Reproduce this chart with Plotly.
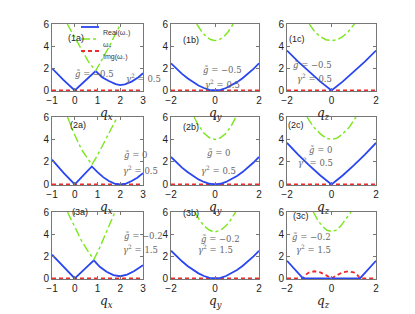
import plotly.graph_objects as go

# ---------------- data ----------------
# column a: q_x in [-1, 3]; columns b, c: q_y, q_z in [-2, 2]
q_blue_1a = [-1, -0.5, 0, 0.45, 0.92, 1.2, 1.5, 1.8, 2.0, 2.2, 2.5, 2.8, 3.0]
re_1a = [2.0, 0.95, 0.0, 0.85, 1.75, 1.2, 0.85, 0.58, 0.48, 0.55, 0.8, 1.2, 1.55]
q_green_1a = [-0.33, 0.0, 0.3, 0.6, 0.92, 1.2, 1.5, 1.75, 2.02]
wp_1a = [6.0, 4.75, 3.6, 2.6, 1.77, 2.75, 3.9, 4.95, 6.0]

q_blue_2a = [-1, -0.5, 0, 0.375, 0.75, 1.0, 1.25, 1.5, 1.75, 2.0, 2.25, 2.5, 2.75, 3.0]
re_2a = [2.2, 1.05, 0.0, 0.8, 1.6, 1.1, 0.65, 0.3, 0.08, 0.0, 0.08, 0.3, 0.6, 1.0]
q_green_2a = [-0.32, 0.0, 0.3, 0.55, 0.75, 1.0, 1.25, 1.5, 1.87]
wp_2a = [6.0, 4.4, 3.1, 2.3, 1.75, 2.6, 3.6, 4.6, 6.0]

q_blue_3a = [-1, -0.5, 0, 0.42, 0.84, 1.1, 1.4, 1.7, 2.0, 2.3, 2.6, 3.0]
re_3a = [2.15, 1.05, 0.0, 0.82, 1.63, 1.05, 0.6, 0.3, 0.2, 0.35, 0.65, 1.2]
q_green_3a = [-0.32, 0.0, 0.3, 0.6, 0.84, 1.1, 1.4, 1.77]
wp_3a = [6.0, 4.6, 3.4, 2.4, 1.7, 2.8, 4.2, 6.0]

q_sym = [-2, -1.75, -1.5, -1.25, -1, -0.75, -0.5, -0.25, 0, 0.25, 0.5, 0.75, 1, 1.25, 1.5, 1.75, 2]
re_1b = [2.45, 1.95, 1.5, 1.1, 0.75, 0.45, 0.22, 0.06, 0.0, 0.06, 0.22, 0.45, 0.75, 1.1, 1.5, 1.95, 2.45]
re_2b = [2.45, 1.95, 1.5, 1.1, 0.75, 0.45, 0.22, 0.06, 0.0, 0.06, 0.22, 0.45, 0.75, 1.1, 1.5, 1.95, 2.45]
re_3b = [2.5, 2.0, 1.55, 1.12, 0.76, 0.46, 0.22, 0.06, 0.0, 0.06, 0.22, 0.46, 0.76, 1.12, 1.55, 2.0, 2.5]

q_v = [-2, -1.5, -1, -0.5, 0, 0.5, 1, 1.5, 2]
re_1c = [3.6, 2.6, 1.7, 0.8, 0.0, 0.8, 1.7, 2.6, 3.6]
re_2c = [3.7, 2.65, 1.7, 0.8, 0.0, 0.8, 1.7, 2.65, 3.7]
q_blue_3c = [-2, -1.28, 0, 1.28, 2]
re_3c = [1.6, 0.0, 0.0, 0.0, 1.6]

q_green_1b = [-0.83, -0.6, -0.4, -0.2, 0, 0.2, 0.4, 0.6, 0.83]
wp_1b = [6.0, 5.3, 4.85, 4.6, 4.5, 4.6, 4.85, 5.3, 6.0]
q_green_2b = [-0.95, -0.75, -0.5, -0.25, 0, 0.25, 0.5, 0.75, 0.95]
wp_2b = [6.0, 5.25, 4.55, 4.15, 4.0, 4.15, 4.55, 5.25, 6.0]
q_green_3b = [-0.92, -0.7, -0.5, -0.25, 0, 0.25, 0.5, 0.7, 0.94]
wp_3b = [6.0, 5.25, 4.75, 4.35, 4.2, 4.35, 4.75, 5.25, 6.0]

q_green_1c = [-1.0, -0.75, -0.5, -0.25, 0, 0.25, 0.5, 0.75, 1.03]
wp_1c = [6.0, 5.3, 4.85, 4.58, 4.5, 4.58, 4.85, 5.3, 6.0]
q_green_2c = [-1.1, -0.8, -0.5, -0.25, 0, 0.25, 0.5, 0.8, 1.1]
wp_2c = [6.0, 5.1, 4.5, 4.12, 4.0, 4.12, 4.5, 5.1, 6.0]
q_green_3c = [-0.82, -0.6, -0.4, -0.2, 0, 0.2, 0.4, 0.6, 0.88]
wp_3c = [6.0, 5.2, 4.7, 4.35, 4.25, 4.35, 4.7, 5.2, 6.0]

q_img_a = [-1, 3]
im_a = [0, 0]
q_img_bc = [-2, 2]
im_bc = [0, 0]
q_img_3c = [-2, -1.28, -1.15, -1.0, -0.75, -0.5, -0.25, 0, 0.25, 0.5, 0.75, 1.0, 1.15, 1.28, 2]
im_3c = [0, 0, 0.35, 0.55, 0.65, 0.55, 0.3, 0, 0.3, 0.55, 0.65, 0.55, 0.35, 0, 0]

panel_labels = ["(1a)", "(1b)", "(1c)", "(2a)", "(2b)", "(2c)", "(3a)", "(3b)", "(3c)"]
g_texts = ["−0.5", "−0.5", "−0.5", "0", "0", "0", "−0.2", "−0.2", "−0.2"]
gamma_texts = ["0.5", "0.5", "0.5", "0.5", "0.5", "0.5", "1.5", "1.5", "1.5"]
axis_names = ["x", "y", "z"]
legend_names = ["Real(ω<sub>−</sub>)", "ω<sub>+</sub>", "Img(ω<sub>−</sub>)"]

# ---------------- layout helpers ----------------
W, H = 415, 314
BLUE, GREEN, RED = "#2a46f0", "#7ae81a", "#ee2a2a"
RED_DASH = "4px,3px"
col_px = [(52, 143), (171, 259), (287, 376)]
row_px = [(24, 91), (117, 185), (212, 279)]


def px(x):
    return x / W


def py(y):
    return 1 - y / H


panels = [
    (q_blue_1a, re_1a, q_green_1a, wp_1a, q_img_a, im_a),
    (q_sym, re_1b, q_green_1b, wp_1b, q_img_bc, im_bc),
    (q_v, re_1c, q_green_1c, wp_1c, q_img_bc, im_bc),
    (q_blue_2a, re_2a, q_green_2a, wp_2a, q_img_a, im_a),
    (q_sym, re_2b, q_green_2b, wp_2b, q_img_bc, im_bc),
    (q_v, re_2c, q_green_2c, wp_2c, q_img_bc, im_bc),
    (q_blue_3a, re_3a, q_green_3a, wp_3a, q_img_a, im_a),
    (q_sym, re_3b, q_green_3b, wp_3b, q_img_bc, im_bc),
    (q_blue_3c, re_3c, q_green_3c, wp_3c, q_img_3c, im_3c),
]

fig = go.Figure()
layout = dict(width=W, height=H, margin=dict(l=0, r=0, t=0, b=0, autoexpand=False),
              paper_bgcolor="white", plot_bgcolor="white", showlegend=False,
              font=dict(family="Liberation Sans, Arial", size=10, color="#222"))
annotations = []
shapes = []

# text positions (pixel centres) for each panel: label, g-text, gamma-text
label_pos = [(66, 31), (191, 33), (307, 32), (68, 125), (191, 127), (306, 125), (70, 219), (191, 220), (311, 223)]
g_pos = [(73, 67), (222, 63), (334, 58), (122, 155), (218, 153), (334, 150), (122, 243), (220, 246), (333, 244)]
gam_pos = [(124, 70), (222, 76), (334, 70), (121, 170), (218, 170), (335, 162), (121, 257), (215, 257), (333, 257)]

for i, (qb, rb, qg, wg, qr, ir) in enumerate(panels):
    r, c = divmod(i, 3)
    n = i + 1
    xa = "x" if n == 1 else f"x{n}"
    ya = "y" if n == 1 else f"y{n}"
    fig.add_trace(go.Scatter(x=qr, y=ir, mode="lines", xaxis=xa, yaxis=ya,
                             line=dict(color=RED, width=1.8, dash=RED_DASH)))
    fig.add_trace(go.Scatter(x=qb, y=rb, mode="lines", xaxis=xa, yaxis=ya,
                             line=dict(color=BLUE, width=1.8)))
    fig.add_trace(go.Scatter(x=qg, y=wg, mode="lines", xaxis=xa, yaxis=ya,
                             line=dict(color=GREEN, width=1.4, dash="dashdot")))
    x0, x1 = col_px[c]
    y0, y1 = row_px[r]
    if c == 0:
        xr, tv = [-1, 3], [-1, 0, 1, 2, 3]
    else:
        xr, tv = [-2, 2], [-2, 0, 2]
    tvt = [str(v).replace("-", "−") for v in tv]
    common = dict(showline=True, mirror="ticks", linecolor="#777", linewidth=1,
                  ticks="inside", ticklen=3, tickcolor="#777", showgrid=False,
                  zeroline=False, tickfont=dict(size=10, color="#222"))
    layout["xaxis" if n == 1 else f"xaxis{n}"] = dict(
        domain=[px(x0), px(x1)], range=xr, tickvals=tv, ticktext=tvt,
        anchor=ya, **common)
    layout["yaxis" if n == 1 else f"yaxis{n}"] = dict(
        domain=[py(y1), py(y0)], range=[-0.05, 6.0], tickvals=[0, 2, 4, 6],
        ticktext=["0", "2", "4", "6"], anchor=xa, **common)

    lx, ly = label_pos[i]
    annotations.append(dict(x=px(lx), y=py(ly), xref="paper", yref="paper",
                            text=panel_labels[i], showarrow=False,
                            font=dict(size=9, color="#222")))
    gx, gy = g_pos[i]
    annotations.append(dict(x=px(gx), y=py(gy), xref="paper", yref="paper",
                            text="<i>g̃</i> = " + g_texts[i], showarrow=False,
                            font=dict(family="DejaVu Serif", size=8.5, color="#666")))
    hx, hy = gam_pos[i]
    annotations.append(dict(x=px(hx), y=py(hy), xref="paper", yref="paper",
                            text="<i>γ</i><sup>2</sup> = " + gamma_texts[i], showarrow=False,
                            font=dict(family="DejaVu Serif", size=8.5, color="#666")))
    # axis title
    annotations.append(dict(x=px((x0 + x1) / 2), y=py(y1 + 13), xref="paper", yref="paper",
                            yanchor="top",
                            text=f"<i>q</i><sub><i>{axis_names[c]}</i></sub>", showarrow=False,
                            font=dict(family="DejaVu Serif", size=12, color="#222")))

# legend inside panel (1a)
leg_rows = [27, 39, 51]
leg_styles = [(BLUE, "solid", 1.8), (GREEN, "dashdot", 1.4), (RED, RED_DASH, 1.8)]
for (yy, (colr, dsh, lw), name) in zip(leg_rows, leg_styles, legend_names):
    shapes.append(dict(type="line", xref="paper", yref="paper",
                       x0=px(81), x1=px(99), y0=py(yy), y1=py(yy),
                       line=dict(color=colr, width=lw, dash=dsh)))
    annotations.append(dict(x=px(100.5), y=py(yy), xref="paper", yref="paper",
                            xanchor="left", text=name, showarrow=False,
                            font=dict(size=7, color="#333")))

layout["annotations"] = annotations
layout["shapes"] = shapes
fig.update_layout(**layout)
fig.write_html("out.html", config={"displayModeBar": False},
               post_script="document.body.style.margin='0';document.body.style.padding='0';")
